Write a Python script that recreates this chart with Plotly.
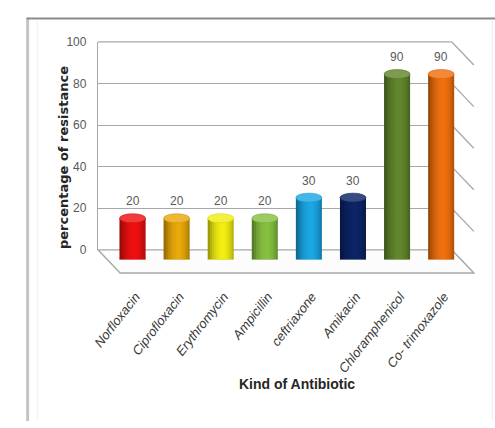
import plotly.graph_objects as go

# Resistance of isolates to each antibiotic (%)
antibiotics = ["Norfloxacin", "Ciprofloxacin", "Erythromycin", "Ampicillin",
               "ceftriaxone", "Amikacin", "Chloramphenicol", "Co- trimoxazole"]
resistance = [20, 20, 20, 20, 30, 30, 90, 90]
bar_colors = ["#ee1010", "#e9a90a", "#f2ee12", "#86c040",
              "#1ba6e4", "#0c2466", "#62862c", "#f0700e"]
y_ticks = [0, 20, 40, 60, 80, 100]

W, H = 495, 428


def px(x):
    return x / W


def py(y):
    return 1 - y / H


def mix(hex_color, other, t):
    h = hex_color.lstrip("#")
    r, g, b = (int(h[i:i + 2], 16) for i in (0, 2, 4))
    o = other
    return "rgb({},{},{})".format(int(r + (o[0] - r) * t),
                                  int(g + (o[1] - g) * t),
                                  int(b + (o[2] - b) * t))


BAR_W = 0.59
fig = go.Figure()

# empty trace so the back-wall axes (x/y) are drawn
fig.add_trace(go.Scatter(x=[0, 1], y=[0, 100], mode="markers",
                         marker=dict(opacity=0), xaxis="x", yaxis="y",
                         showlegend=False, hoverinfo="skip"))

# main cylinder bodies
fig.add_trace(go.Bar(
    x=antibiotics, y=resistance, xaxis="x2", yaxis="y2",
    width=BAR_W, offset=-BAR_W / 2,
    marker=dict(color=bar_colors, line=dict(width=0)),
    showlegend=False, hoverinfo="x+y",
))

# shading strips across each cylinder body
shade = [0.36, 0.26, 0.17, 0.10, 0.05, 0.02, 0.0, 0.0, 0.03, 0.08, 0.15, 0.24]
n = len(shade)
for k, a in enumerate(shade):
    if a <= 0:
        continue
    fig.add_trace(go.Bar(
        x=antibiotics, y=resistance, xaxis="x2", yaxis="y2",
        width=BAR_W / n, offset=-BAR_W / 2 + k * BAR_W / n,
        marker=dict(color="rgba(0,0,0,{})".format(a), line=dict(width=0)),
        showlegend=False, hoverinfo="skip",
    ))

shapes = []
annotations = []

# back wall / floor / side gridlines (decoration)
X_L, X_R = 83, 450
Y0, Y100 = 251, 36
DX, DY = 23, 24
for v in y_ticks:
    yy = Y0 + (Y100 - Y0) * v / 100
    shapes.append(dict(type="line", xref="paper", yref="paper",
                       x0=px(X_R), y0=py(yy), x1=px(X_R + DX), y1=py(yy + DY),
                       line=dict(color="#a8a8a8", width=1.3), layer="below"))
shapes.append(dict(type="line", xref="paper", yref="paper",
                   x0=px(X_L), y0=py(Y100), x1=px(X_R), y1=py(Y100),
                   line=dict(color="#a8a8a8", width=1.3), layer="below"))
shapes.append(dict(type="path", xref="paper", yref="paper",
                   path="M {} {} L {} {} L {} {} L {} {} Z".format(
                       px(X_L), py(Y0), px(X_R), py(Y0),
                       px(X_R + DX), py(Y0 + DY), px(X_L + DX), py(Y0 + DY)),
                   fillcolor="rgba(252,252,252,1)",
                   line=dict(color="#a8a8a8", width=1.3), layer="below"))

# cylinder ends
for i, (name, v, c) in enumerate(zip(antibiotics, resistance, bar_colors)):
    shapes.append(dict(type="circle", xref="x2", yref="y2",
                       x0=i - BAR_W / 2, x1=i + BAR_W / 2,
                       ysizemode="pixel", yanchor=0, y0=-4.5, y1=4.5,
                       fillcolor=mix(c, (0, 0, 0), 0.2),
                       line=dict(width=0), layer="below"))
    shapes.append(dict(type="circle", xref="x2", yref="y2",
                       x0=i - BAR_W / 2, x1=i + BAR_W / 2,
                       ysizemode="pixel", yanchor=v, y0=-4.5, y1=4.5,
                       fillcolor=mix(c, (255, 255, 255), 0.18),
                       line=dict(color=mix(c, (0, 0, 0), 0.1), width=0.6),
                       layer="above"))
    annotations.append(dict(x=name, y=v, xref="x2", yref="y2",
                            text=str(v), showarrow=False, yshift=17,
                            font=dict(family="Liberation Sans Narrow, Liberation Sans, Arial",
                                      size=12, color="#595959")))

# axis titles
annotations.append(dict(x=px(38), y=py(156), xref="paper", yref="paper",
                        text="<b>percentage of resistance</b>", textangle=-90,
                        showarrow=False,
                        font=dict(family="DejaVu Sans", size=13, color="#262626")))
annotations.append(dict(x=px(290), y=py(400), xref="paper", yref="paper",
                        text="<b>Kind of Antibiotic</b>", showarrow=False,
                        font=dict(family="Liberation Sans Narrow, Liberation Sans, Arial",
                                  size=14, color="#262626")))

# outer frame
shapes += [
    dict(type="line", xref="paper", yref="paper", x0=px(10), x1=px(10),
         y0=py(11), y1=0, line=dict(color="#c4c4c4", width=3)),
    dict(type="line", xref="paper", yref="paper", x0=px(9), x1=1,
         y0=py(12), y1=py(12), line=dict(color="#8a8a8a", width=2)),
    dict(type="line", xref="paper", yref="paper", x0=px(492), x1=px(492),
         y0=py(13), y1=0, line=dict(color="#ececec", width=1)),
    dict(type="line", xref="paper", yref="paper", x0=px(20), x1=px(20),
         y0=py(13), y1=0, line=dict(color="#f2f2f2", width=1)),
]

fig.update_layout(
    width=W, height=H,
    margin=dict(l=0, r=0, t=0, b=0),
    paper_bgcolor="white", plot_bgcolor="rgba(0,0,0,0)",
    barmode="overlay", showlegend=False,
    xaxis=dict(domain=[px(X_L), px(X_R)], range=[0, 1], showgrid=False,
               zeroline=False, showticklabels=False, showline=False,
               fixedrange=True),
    yaxis=dict(domain=[py(Y0), py(Y100)], range=[0, 100], tickvals=y_ticks,
               showgrid=True, gridcolor="#a8a8a8", gridwidth=1.3,
               zeroline=False, showline=True, linecolor="#a8a8a8", linewidth=1.3,
               ticks="", ticklabelstandoff=8,
               tickfont=dict(family="Liberation Sans Narrow, Liberation Sans, Arial",
                             size=12, color="#595959")),
    xaxis2=dict(domain=[px(96), px(462)], anchor="y2", type="category",
                range=[-0.5, 7.5], showgrid=False, zeroline=False, showline=False,
                ticks="", tickangle=-52, ticklabelstandoff=26, ticklabelshift=3,
                tickfont=dict(family="Liberation Sans Narrow, Liberation Sans, Arial",
                              size=13, color="#383838", style="italic")),
    yaxis2=dict(domain=[py(261), py(48)], anchor="x2", range=[0, 100],
                showgrid=False, zeroline=False, showline=False,
                showticklabels=False),
    shapes=shapes, annotations=annotations,
)

fig.write_html("out.html")
